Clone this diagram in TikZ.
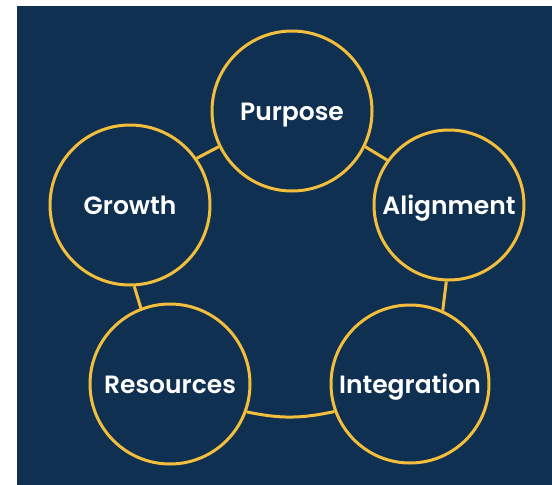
\documentclass[tikz,border=0pt]{standalone}
\usepackage{fontspec}
\newfontfamily\lblfont{Poppins}[BoldFont={Poppins SemiBold}]
\usetikzlibrary{positioning}
\definecolor{navy}{HTML}{0F3050}
\definecolor{gold}{HTML}{F2BE3C}
\tikzset{
    x=1pt, y=-1pt, % pixel like units, y grows downwards
    RING/.style = {circle, draw=gold, line width=3pt, fill=navy, inner sep=0pt,
                   text height=18pt, text depth=0pt, % caps centred in the ring
                   text=white, font=\lblfont\bfseries\fontsize{25}{29}\selectfont},
    LNK/.style  = {draw=gold, line width=3pt}
}
\begin{document}
\begin{tikzpicture}
  \useasboundingbox (0,0) rectangle (552,485);
  \fill[navy] (17,6) rectangle (552,485);
  % the five rings
  \node [RING, minimum size=160pt] (purpose) at (292,111) {Purpose};
  \node [RING, minimum size=150pt] (align) at (449,205) {Alignment};
  \node [RING, minimum size=160pt] (growth) at (130,205) {Growth};
  \node [RING, minimum size=160pt] (res) at (170,384) {Resources};
  \node [RING, minimum size=158pt] (integ) at (410,384) {Integration};
  % links between the rings
  \path [LNK] (purpose.-26) -- (align.144);
  \path [LNK] (purpose.206) -- (growth.35);
  \path [LNK] (growth.-87) -- (res.111);
  \path [LNK] (align.-92) -- (integ.66);
  \path [LNK] (res.-20) to[bend right=12] (integ.200);
\end{tikzpicture}
\end{document}
